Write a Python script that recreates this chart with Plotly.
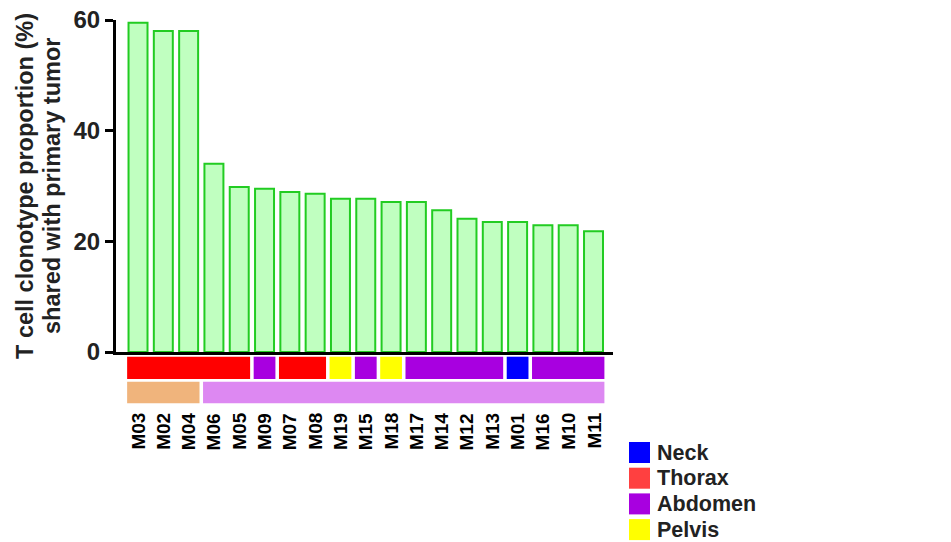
"""Shared T cell clonotypes per metastasis, with site annotation bars."""

import plotly.graph_objects as go

SAMPLES = ["M03", "M02", "M04", "M06", "M05", "M09", "M07", "M08", "M19", "M15",
           "M18", "M17", "M14", "M12", "M13", "M01", "M16", "M10", "M11"]
SHARED_PCT = [59.5, 58.0, 58.0, 34.0, 29.8, 29.5, 28.9, 28.6, 27.7, 27.7,
              27.1, 27.1, 25.6, 24.1, 23.5, 23.5, 22.9, 22.9, 21.8]
SITE = ["Thorax", "Thorax", "Thorax", "Thorax", "Thorax", "Abdomen", "Thorax", "Thorax",
        "Pelvis", "Abdomen", "Pelvis", "Abdomen", "Abdomen", "Abdomen", "Abdomen",
        "Neck", "Abdomen", "Abdomen", "Abdomen"]
GROUP = ["early"] * 3 + ["late"] * 16

SITE_COLORS = {"Neck": "#0000ff", "Thorax": "#ff0000", "Abdomen": "#a800e0", "Pelvis": "#ffff00"}
GROUP_COLORS = {"early": "#f0b47c", "late": "#dd88f2"}
LEGEND_SITES = ["Neck", "Thorax", "Abdomen", "Pelvis"]
LEGEND_COLORS = ["#0000ff", "#ff4040", "#a800e0", "#ffff00"]

FONT = "Liberation Sans, Arial, sans-serif"

# the page body adds an 8px margin, so lay out in screen pixels minus 8
OFF = 8
LEFT, RIGHT, TOP, BOTTOM = 116, 613, 20, 352
PLOT_W = RIGHT - LEFT
PLOT_H = BOTTOM - TOP


def py(pix):
    return (BOTTOM - pix) / PLOT_H


def px_(pix):
    return (pix - LEFT) / PLOT_W


def runs(values):
    start = 0
    for i in range(1, len(values) + 1):
        if i == len(values) or values[i] != values[start]:
            yield start, i - 1, values[start]
            start = i


def main() -> None:
    idx = list(range(len(SAMPLES)))
    fig = go.Figure(
        go.Bar(
            x=idx,
            y=SHARED_PCT,
            marker={"color": "#c0ffc0", "line": {"color": "#22cc22", "width": 2}},
            hovertext=SAMPLES,
        )
    )

    shapes = []
    inset = 0.07
    for row, (values, colors) in enumerate([(SITE, SITE_COLORS), (GROUP, GROUP_COLORS)]):
        y0, y1 = [(356.7, 379.0), (381.7, 403.3)][row]
        for s, e, v in runs(values):
            shapes.append(dict(
                type="rect", xref="x", yref="paper",
                x0=s - 0.5 + inset, x1=e + 0.5 - inset, y0=py(y1), y1=py(y0),
                fillcolor=colors[v], line={"width": 0}, layer="above",
            ))

    annotations = []
    for i, name in zip(idx, SAMPLES):
        annotations.append(dict(
            x=i, y=py(411), xref="x", yref="paper", text=name, showarrow=False,
            textangle=-90, xanchor="center", yanchor="top",
            font={"family": FONT, "size": 19, "color": "black", "weight": "bold"},
        ))

    title_lines = ["T cell clonotype proportion (%)", "shared with primary tumor"]
    for line, xc in zip(title_lines, [25, 52]):
        annotations.append(dict(
            x=px_(xc), y=py(186), xref="paper", yref="paper", text=line,
            showarrow=False, textangle=-90, xanchor="center", yanchor="middle",
            font={"family": FONT, "size": 23.5, "color": "#222", "weight": "bold"},
        ))

    for k, (site, col) in enumerate(zip(LEGEND_SITES, LEGEND_COLORS)):
        top = 442 + k * 25.7
        shapes.append(dict(
            type="rect", xref="paper", yref="paper",
            x0=px_(629), x1=px_(650), y0=py(top + 21), y1=py(top),
            fillcolor=col, line={"width": 0},
        ))
        annotations.append(dict(
            x=px_(655), y=py(top + 10.5), xref="paper", yref="paper", text=site,
            showarrow=False, xanchor="left", yanchor="middle",
            font={"family": FONT, "size": 21.5, "color": "#222", "weight": "bold"},
        ))

    fig.update_layout(
        width=951 - OFF,
        height=542 - OFF,
        margin={"l": LEFT - OFF, "r": 951 - RIGHT, "t": TOP - OFF,
                "b": 542 - BOTTOM, "pad": 0},
        plot_bgcolor="white",
        paper_bgcolor="white",
        showlegend=False,
        bargap=0.25,
        shapes=shapes,
        annotations=annotations,
    )
    fig.update_xaxes(
        range=[-0.87, 18.77], showticklabels=False, ticks="", showgrid=False,
        zeroline=False, showline=True, linecolor="black", linewidth=3,
    )
    fig.update_yaxes(
        range=[0, 60], tickvals=[0, 20, 40, 60], ticks="outside", ticklen=8,
        tickwidth=3, tickcolor="black", showgrid=False, zeroline=False,
        showline=True, linecolor="black", linewidth=3, automargin=False,
        ticklabeloverflow="allow",
        tickfont={"family": FONT, "size": 24, "color": "#222", "weight": "bold"},
    )
    fig.write_html("out.html")


if __name__ == "__main__":
    main()
